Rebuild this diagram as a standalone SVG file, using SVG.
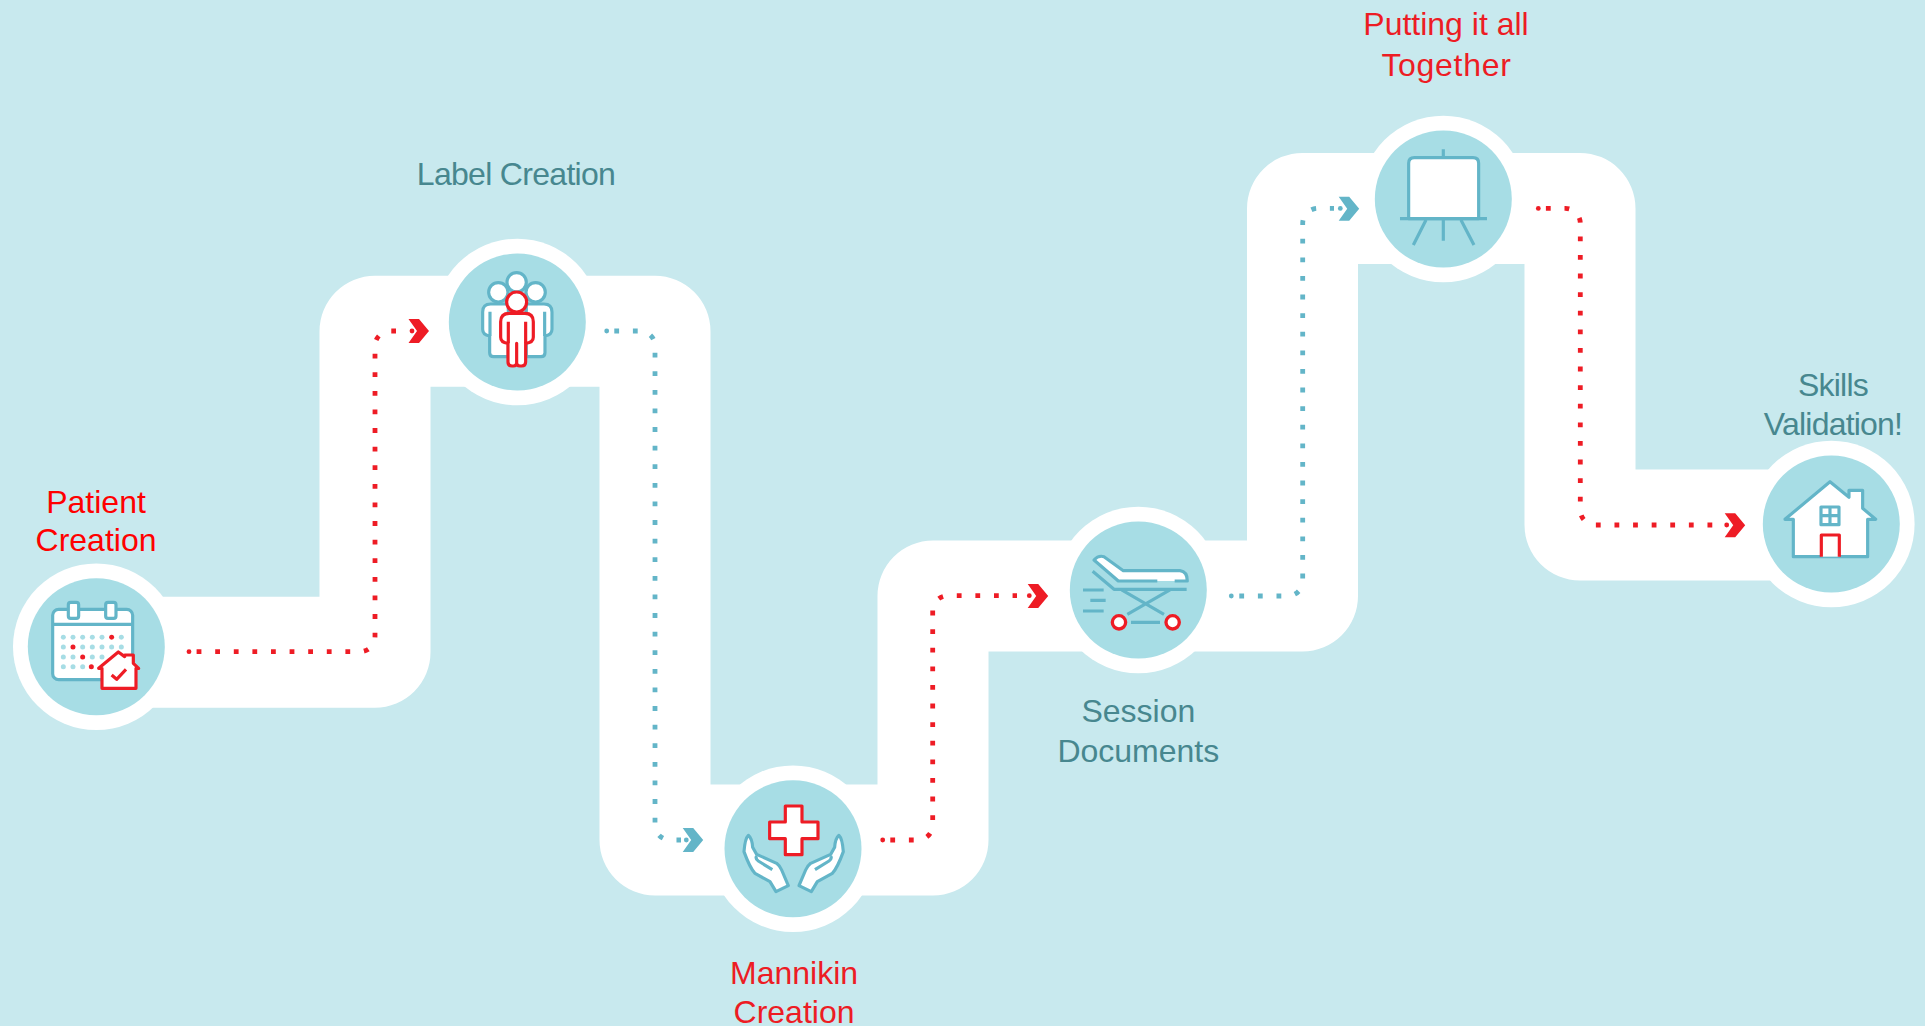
<svg xmlns="http://www.w3.org/2000/svg" width="1925" height="1026" viewBox="0 0 1925 1026">
<style>
text{font-family:"Liberation Sans",Arial,sans-serif;font-size:32px;text-anchor:middle}
.lr{fill:#ED1C24}.lp{fill:#FF0000}.lt{fill:#47878F}
.o{fill:#fff}.i{fill:#A7DDE5}
.t,.r{stroke-width:9.5;stroke-linejoin:round;stroke-linecap:butt;fill:none}
.t{stroke:#63B5C8}.r{stroke:#EE1C25}
.dt{fill:none;stroke:#63B5C8;stroke-width:4.8;stroke-dasharray:4.8 13.8}
.dr{fill:none;stroke:#EE1C25;stroke-width:4.8;stroke-dasharray:4.8 13.8}
.ft{fill:#63B5C8}.fr{fill:#EE1C25}
.cl{fill:#A7DDE5}
</style>
<defs><polygon id="chev" points="0,-12 10.5,-12 20.5,0 10.5,12 0,12 8.5,0"/></defs>
<rect width="1925" height="1026" fill="#C8E9EE"/>
<path id="band" d="M96,652.2 H375 V331.2 H655 V840 H933 V596 H1302.5 V208.4 H1580 V525 H1831" fill="none" stroke="#fff" stroke-width="111" stroke-linejoin="round"/>

<g id="connectors">
<path class="dr" d="M196.6,651.7 H360 A15,15 0 0 0 375,636.7 V346 A15,15 0 0 1 390,331 H396"/>
<circle class="fr" cx="189" cy="651.7" r="2.4"/><circle class="fr" cx="412" cy="331" r="2.4"/>
<use href="#chev" class="fr" transform="translate(408.5,331)"/>
<path class="dt" d="M614.3,331 H640 A15,15 0 0 1 655,346 V825 A15,15 0 0 0 670,840 H681"/>
<circle class="ft" cx="606.7" cy="331" r="2.4"/><circle class="ft" cx="686.3" cy="840" r="2.4"/>
<use href="#chev" class="ft" transform="translate(682.7,840)"/>
<path class="dr" d="M890.3,840 H917.7 A15,15 0 0 0 932.7,825 V610.7 A15,15 0 0 1 947.7,595.7 H1017"/>
<circle class="fr" cx="882.7" cy="840" r="2.4"/><circle class="fr" cx="1029.3" cy="595.7" r="2.4"/>
<use href="#chev" class="fr" transform="translate(1027.7,596)"/>
<path class="dt" d="M1239.3,596 H1287.7 A15,15 0 0 0 1302.7,581 V223.4 A15,15 0 0 1 1317.7,208.4 H1334"/>
<circle class="ft" cx="1231.3" cy="596" r="2.4"/><circle class="ft" cx="1340.3" cy="208.4" r="2.4"/>
<use href="#chev" class="ft" transform="translate(1338.7,208.7)"/>
<path class="dr" d="M1545.9,208.4 H1565.3 A15,15 0 0 1 1580.3,223.4 V510 A15,15 0 0 0 1595.3,525 H1713"/>
<circle class="fr" cx="1538.3" cy="208.4" r="2.4"/><circle class="fr" cx="1726.7" cy="525" r="2.4"/>
<use href="#chev" class="fr" transform="translate(1724.7,525.3)"/>
</g>

<g id="node-patient">
<circle class="o" cx="96.3" cy="646.7" r="83.3"/><circle class="i" cx="96.3" cy="646.7" r="68.5"/>
<g transform="translate(0,470) scale(.3333)">
<rect class="t" x="158" y="418" width="240" height="211" rx="18" style="fill:#fff"/>
<path class="t" d="M158,463 H398"/>
<rect class="t" x="205" y="397" width="31" height="48" rx="7" style="fill:#fff"/>
<rect class="t" x="317" y="397" width="31" height="48" rx="7" style="fill:#fff"/>
<g class="cl">
<circle cx="190" cy="502" r="7.5"/><circle cx="219" cy="502" r="7.5"/><circle cx="248" cy="502" r="7.5"/><circle cx="277" cy="502" r="7.5"/><circle cx="306" cy="502" r="7.5"/><circle cx="364" cy="502" r="7.5"/>
<circle cx="190" cy="531" r="7.5"/><circle cx="248" cy="531" r="7.5"/><circle cx="277" cy="531" r="7.5"/><circle cx="306" cy="531" r="7.5"/><circle cx="335" cy="531" r="7.5"/><circle cx="364" cy="531" r="7.5"/>
<circle cx="190" cy="561" r="7.5"/><circle cx="219" cy="561" r="7.5"/><circle cx="277" cy="561" r="7.5"/><circle cx="306" cy="561" r="7.5"/>
<circle cx="190" cy="590" r="7.5"/><circle cx="219" cy="590" r="7.5"/><circle cx="248" cy="590" r="7.5"/>
</g>
<g class="fr"><circle cx="335" cy="502" r="7.5"/><circle cx="219" cy="531" r="7.5"/><circle cx="248" cy="561" r="7.5"/><circle cx="274" cy="590" r="7.5"/></g>
<path class="r" style="fill:#fff" d="M296,595 L355,546 L374,560 V555 H400 V580 L416,595 H408 V655 H306 V595 Z"/>
<path class="r" d="M335,615 L350,628 L378,598"/>
</g>
<text class="lp" x="96" y="513">Patient</text><text class="lp" x="96" y="551">Creation</text>
</g>

<g id="node-label">
<circle class="o" cx="517.3" cy="322" r="83.3"/><circle class="i" cx="517.3" cy="322" r="68.5"/>
<g transform="translate(360,230) scale(.3333)">
<path class="t" style="fill:#fff" d="M435,222 H392 Q368,222 368,246 V298 Q368,315 389,318 V368 Q389,380 401,380 H445 V222 Z"/>
<path class="t" style="fill:#fff" d="M509,222 H552 Q576,222 576,246 V298 Q576,315 555,318 V368 Q555,380 543,380 H499 V222 Z"/>
<path class="t" d="M390,245 V318 M554,245 V318"/>
<circle class="t" style="fill:#fff" cx="470" cy="157" r="29"/>
<circle class="t" style="fill:#fff" cx="415" cy="187" r="29"/>
<circle class="t" style="fill:#fff" cx="527" cy="187" r="29"/>
<path class="r" style="fill:#fff" d="M448,250 Q422,250 422,275 V322 Q422,338 444,340 V396 Q444,408 456,408 H460 Q470,408 470,398 V340 V398 Q470,408 480,408 H485 Q497,408 497,396 V340 Q520,338 520,322 V275 Q520,250 495,250 Z"/>
<path class="r" d="M445,275 V340 M497,275 V340"/>
<circle class="r" style="fill:#fff" cx="470" cy="216" r="30"/>
</g>
<text class="lt" x="516" y="185" style="letter-spacing:-.7px">Label Creation</text>
</g>

<g id="node-mannikin">
<circle class="o" cx="793" cy="848.7" r="83.3"/><circle class="i" cx="793" cy="848.7" r="68.5"/>
<g transform="translate(640,760) scale(.3333)">
<path class="r" style="fill:#fff" d="M436,138 H486 V186 H534 V236 H486 V284 H436 V236 H389 V186 H436 Z"/>
<path class="t" style="fill:#fff" d="M312,275 Q315,235 325,226 Q336,235 338,262 Q345,275 350,283 L410,310 Q420,318 425,330 L445,377 L408,395 L390,365 L345,340 Q330,325 312,275 Z"/>
<path class="t" style="fill:#fff" d="M610,275 Q607,235 597,226 Q586,235 584,262 Q577,275 572,283 L512,310 Q502,318 497,330 L477,377 L514,395 L532,365 L577,340 Q592,325 610,275 Z"/>
<path class="t" d="M350,288 Q345,296 355,303 L397,329 M572,288 Q577,296 567,303 L525,329"/>
</g>
<text class="lr" x="794" y="984.3">Mannikin</text><text class="lr" x="794" y="1023.3">Creation</text>
</g>

<g id="node-session">
<circle class="o" cx="1138.3" cy="590" r="83.3"/><circle class="i" cx="1138.3" cy="590" r="68.5"/>
<g transform="translate(1020,500) scale(.3333)">
<path style="fill:#fff" d="M222,180 Q235,165 252,170 L310,212 H480 Q502,215 502,243 H295 Z"/>
<path class="t" d="M412,243 H295 L222,180 Q235,165 252,170 L310,212 H480 Q502,215 502,243 H464"/>
<path class="t" d="M218,214 L282,268 H500 M305,270 L432,343 M450,270 L322,343 M333,367 H420 M189,270 H251 M211,301 H257 M189,333 H251"/>
<circle class="r" style="fill:#fff;stroke-width:10" cx="297" cy="367" r="20"/>
<circle class="r" style="fill:#fff;stroke-width:10" cx="458" cy="367" r="20"/>
</g>
<text class="lt" x="1138.3" y="722">Session</text><text class="lt" x="1138.3" y="761.7">Documents</text>
</g>

<g id="node-together">
<circle class="o" cx="1443.3" cy="199" r="83.3"/><circle class="i" cx="1443.3" cy="199" r="68.5"/>
<g transform="translate(1290,110) scale(.3333)">
<path class="t" style="fill:#fff" d="M356,326 V160 Q356,143 373,143 H549 Q566,143 566,160 V326 Z"/>
<path class="t" d="M460,118 V143 M330,326 H591 M408,330 L370,405 M460,330 V392 M513,330 L552,405"/>
</g>
<text class="lr" x="1446" y="34.7">Putting it all</text><text class="lr" x="1446.5" y="76" style="letter-spacing:.7px">Together</text>
</g>

<g id="node-skills">
<circle class="o" cx="1831.3" cy="524" r="83.3"/><circle class="i" cx="1831.3" cy="524" r="68.5"/>
<g transform="translate(1700,430) scale(.3333)">
<path class="t" style="fill:#fff" d="M255,268 L390,155 L447,202 V181 H488 V235 L527,268 H503 V380 H280 V268 Z"/>
<rect class="t" x="363" y="231" width="54" height="53"/>
<path class="t" d="M390,231 V284 M363,257 H417"/>
<path class="r" style="fill:#fff" d="M364,380 V315 H418 V380"/>
</g>
<text class="lt" x="1833" y="396" style="letter-spacing:-.8px">Skills</text><text class="lt" x="1833" y="434.5" style="letter-spacing:-.8px">Validation!</text>
</g>
</svg>
